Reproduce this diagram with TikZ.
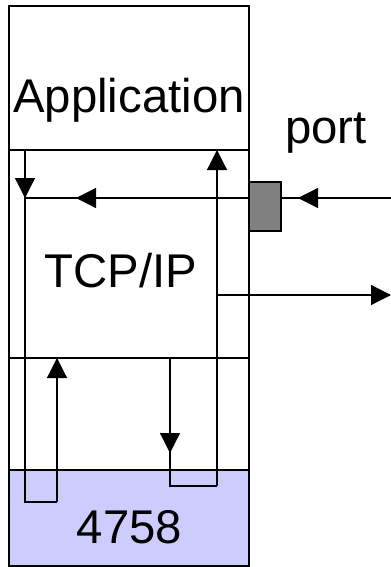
\documentclass[tikz,border=0pt]{standalone}
\usepackage{fontspec}
\setmainfont{Liberation Sans}
\usetikzlibrary{arrows.meta}
\definecolor{cardBlue}{HTML}{CCCCFF}
\definecolor{portGray}{HTML}{808080}

\begin{document}
\begin{tikzpicture}[x=0.75pt,y=-0.75pt,
    layer/.style={draw=black, line width=0.9pt},
    flow/.style={line width=0.9pt},
    tip/.style={flow, -{Triangle[length=15pt,width=15pt]}},
    lbl/.style={font=\fontsize{35.5}{40}\selectfont, anchor=base, inner sep=0pt}]

\useasboundingbox (0,0) rectangle (391,567);

% the stack
\draw[layer] (9,6) rectangle (249,150);
\draw[layer] (9,150) rectangle (249,358);
\draw[layer] (9,358) rectangle (249,470);
\draw[layer, fill=cardBlue] (9,470) rectangle (249,566);

% points on the paths
\coordinate (appIn) at (25,150);
\coordinate (appOut) at (217,150);
\coordinate (rxJoin) at (25,198);
\coordinate (rxLoop) at (25,502);
\coordinate (rxUp) at (57,502);
\coordinate (rxTop) at (57,358);
\coordinate (netIn) at (391,198);
\coordinate (portTip) at (298,198);
\coordinate (portEdge) at (249,198);
\coordinate (tcpTip) at (76,198);
\coordinate (netOut) at (391,295);
\coordinate (txSplit) at (217,295);
\coordinate (txLoop) at (217,486);
\coordinate (txDown) at (170,486);
\coordinate (txTop) at (170,358);
\coordinate (txTip) at (170,453);

% incoming
\draw[flow] (netIn) -- (rxJoin);
\draw[tip] (netIn) -- (portTip);
\draw[tip] (portEdge) -- (tcpTip);
\draw[flow] (appIn) -- (rxLoop) -- (rxUp);
\draw[tip] (appIn) -- (rxJoin);
\draw[tip] (rxUp) -- (rxTop);

% outgoing
\draw[flow] (txTop) -- (txDown) -- (txLoop);
\draw[tip] (txTop) -- (txTip);
\draw[tip] (txLoop) -- (appOut);
\draw[tip] (txSplit) -- (netOut);

% port
\draw[layer, fill=portGray] (249,182) rectangle (281,231);

\node[lbl] (appLbl) at (129,112) {Application};
\node[lbl] (tcpLbl) at (121,287) {TCP/IP};
\node[lbl] (portLbl) at (326,143) {port};
\node[lbl] (cardLbl) at (129.5,543) {4758};

\end{tikzpicture}
\end{document}
